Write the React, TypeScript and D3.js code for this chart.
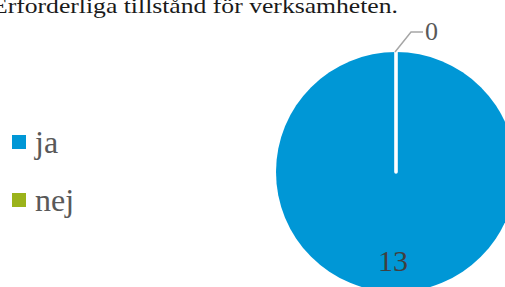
import React from "react";
import * as d3 from "d3";

const title = "Erforderliga tillstånd för verksamheten.";
const categories = ["ja", "nej"];
const values = [13, 0];
const colors = ["#0097D6", "#9BB31A"];

const W = 505;
const H = 287;
const cx = 396;
const cy = 172;
const R = 120;
const FONT = "'Liberation Serif', 'DejaVu Serif', serif";

export default function App() {
  const data = categories.map((c, i) => ({ c, v: values[i] }));
  const pie = d3
    .pie<{ c: string; v: number }>()
    .sort(null)
    .value((d) => d.v)
    .startAngle(0)
    .endAngle(2 * Math.PI);
  const arcs = pie(data);
  const arc = d3.arc<d3.PieArcDatum<{ c: string; v: number }>>().innerRadius(0).outerRadius(R);
  const labelArc = d3.arc<d3.PieArcDatum<{ c: string; v: number }>>().innerRadius(R * 0.85).outerRadius(R * 0.85);

  return (
    <svg
      width={W}
      height={H}
      style={{ position: "fixed", left: 0, top: 0, background: "#fff" }}
      fontFamily={FONT}
    >
      <text x={-8} y={13} fontSize={22} fill="#1a1a1a" textLength={406} lengthAdjust="spacingAndGlyphs">
        {title}
      </text>
      <g transform={`translate(${cx},${cy})`}>
        {arcs.map((a, i) => (
          <path
            key={i}
            d={arc(a) || ""}
            fill={colors[i]}
            stroke="#fff"
            strokeWidth={a.data.v === 0 ? 3.6 : 0}
            strokeLinejoin="round"
            strokeLinecap="round"
          />
        ))}
        {arcs.map((a, i) => {
          if (a.data.v === 0) {
            const ang = a.startAngle;
            const px = Math.sin(ang) * R;
            const py = -Math.cos(ang) * R;
            const ex = px + 15;
            const ey = py - 20;
            return (
              <g key={"l" + i}>
                <polyline
                  points={`${px - 1},${py} ${ex},${ey} ${ex + 12},${ey}`}
                  fill="none"
                  stroke="#a6a6a6"
                  strokeWidth={1.5}
                />
                <text x={ex + 14} y={ey + 8} fontSize={26} fill="#595959">
                  {a.data.v}
                </text>
              </g>
            );
          }
          const [lx, ly] = labelArc.centroid(a);
          return (
            <text key={"l" + i} x={lx - 3} y={ly - 3} textAnchor="middle" fontSize={30} fill="#404040">
              {a.data.v}
            </text>
          );
        })}
      </g>
      {categories.map((c, i) => (
        <g key={c} transform={`translate(12,${135 + i * 58})`}>
          <rect x={0} y={0} width={14} height={14} fill={colors[i]} />
          <text x={23} y={18} fontSize={32} fill="#595959">
            {c}
          </text>
        </g>
      ))}
    </svg>
  );
}
